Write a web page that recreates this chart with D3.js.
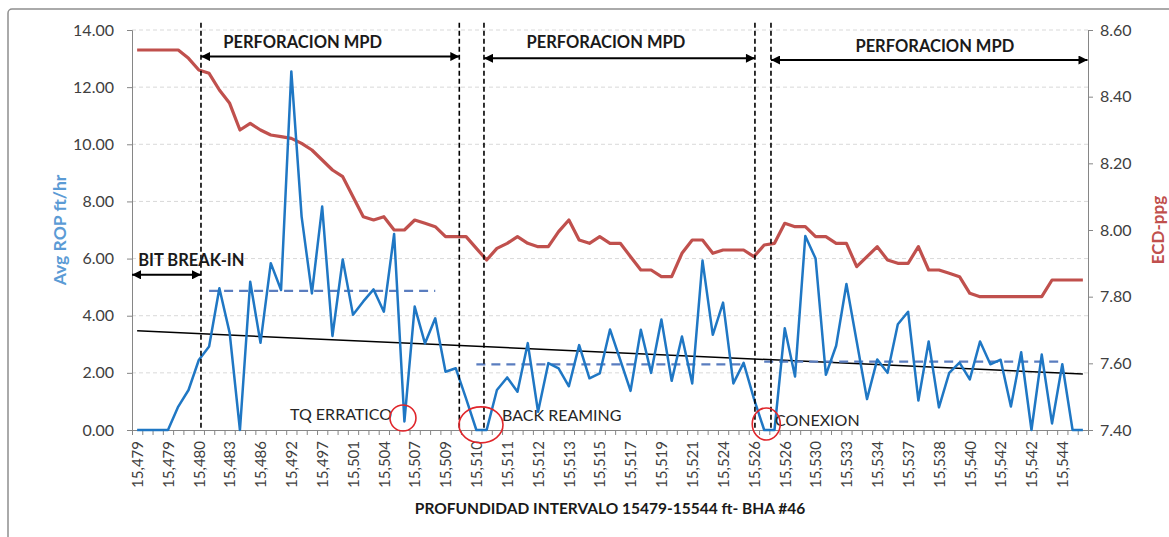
<!DOCTYPE html>
<html>
<head>
<meta charset="utf-8">
<script src="https://cdn.jsdelivr.net/npm/d3@7"></script>
<style>
	body { margin: 0; background: #fff; }
	svg text { font-family: Lato, "Open Sans", sans-serif; }
</style>
</head>
<body>
<div id="chart"></div>
<script>
// depth labels, shown on every third category
var tickLabels = ["15,479", "15,479", "15,480", "15,483", "15,486", "15,492", "15,497", "15,501",
	"15,504", "15,507", "15,509", "15,510", "15,511", "15,512", "15,513", "15,515", "15,517",
	"15,519", "15,521", "15,524", "15,526", "15,526", "15,530", "15,533", "15,534", "15,537",
	"15,538", "15,540", "15,542", "15,542", "15,544"];

// Avg ROP ft/hr
var rop = [0, 0, 0, 0, 0.82, 1.40, 2.45, 2.92, 4.96, 3.40,
	0, 5.19, 3.05, 5.84, 4.90, 12.55, 7.47, 4.78, 7.82, 3.29,
	5.97, 4.03, 4.50, 4.92, 4.14, 6.86, 0.30, 4.32, 3.03, 3.91,
	2.04, 2.16, 1.10, 0, 0, 1.40, 1.84, 1.34, 3.04, 0.64,
	2.34, 2.16, 1.53, 2.97, 1.81, 1.98, 3.52, 2.45, 1.37, 3.51,
	2.00, 3.87, 1.72, 3.27, 1.63, 5.93, 3.33, 4.46, 1.63, 2.35,
	1.10, 0, 0, 3.56, 1.87, 6.79, 6.00, 1.93, 2.95, 5.11,
	3.10, 1.08, 2.47, 2.00, 3.70, 4.14, 1.03, 3.10, 0.79, 2.00,
	2.36, 1.77, 3.10, 2.30, 2.46, 0.82, 2.72, 0, 2.64, 0.23,
	2.30, 0, 0];

// ECD-ppg
var ecd = [8.54, 8.54, 8.54, 8.54, 8.54, 8.515, 8.48, 8.47, 8.42, 8.38,
	8.30, 8.32, 8.30, 8.285, 8.28, 8.275, 8.26, 8.24, 8.21, 8.18,
	8.16, 8.10, 8.04, 8.03, 8.04, 8.00, 8.00, 8.03, 8.02, 8.01,
	7.98, 7.98, 7.98, 7.945, 7.91, 7.945, 7.96, 7.98, 7.96, 7.95,
	7.95, 7.995, 8.03, 7.97, 7.96, 7.98, 7.96, 7.96, 7.92, 7.88,
	7.88, 7.86, 7.86, 7.93, 7.97, 7.97, 7.93, 7.94, 7.94, 7.94,
	7.92, 7.955, 7.96, 8.02, 8.01, 8.01, 7.98, 7.98, 7.96, 7.96,
	7.89, 7.92, 7.95, 7.91, 7.90, 7.90, 7.95, 7.88, 7.88, 7.87,
	7.86, 7.81, 7.80, 7.80, 7.80, 7.80, 7.80, 7.80, 7.80, 7.85,
	7.85, 7.85, 7.85];

var ropTicks = [0, 2, 4, 6, 8, 10, 12, 14];
var ecdTicks = [7.4, 7.6, 7.8, 8.0, 8.2, 8.4, 8.6];

// linear trend of ROP (two ends)
var trend = [{i: 0, v: 3.47}, {i: 92, v: 1.96}];

// average ROP per drilling interval
var averages = [
	{from: 7, to: 29, v: 4.87},
	{from: 33, to: 59, v: 2.30},
	{from: 61, to: 90, v: 2.39}
];

// vertical event markers (category position)
var markers = [6.21, 31.34, 33.74, 60.1, 61.66];

// interval arrows
var spans = [
	{from: -0.5, to: 6.21, v: 5.43, label: "BIT BREAK-IN", lx: 0.1, lv: 5.74, anchor: "start"},
	{from: 6.21, to: 31.34, v: 13.07, label: "PERFORACION MPD", lx: 16.1, lv: 13.37, anchor: "middle"},
	{from: 33.74, to: 60.1, v: 13.01, label: "PERFORACION MPD", lx: 45.6, lv: 13.37, anchor: "middle"},
	{from: 61.66, to: 92.45, v: 12.95, label: "PERFORACION MPD", lx: 77.6, lv: 13.23, anchor: "middle"}
];

var notes = [
	{i: 24.8, v: 0.35, text: "TQ ERRATICO", anchor: "end"},
	{i: 35.5, v: 0.31, text: "BACK REAMING", anchor: "start"},
	{i: 62.05, v: 0.14, text: "CONEXION", anchor: "start"}
];

var circles = [
	{i: 25.86, v: 0.42, rx: 13, ry: 13},
	{i: 33.45, v: 0.18, rx: 22, ry: 18},
	{i: 61.2, v: 0.21, rx: 14, ry: 16}
];

var width = 1169, height = 537;
var margin = {top: 30, right: 81, bottom: 107, left: 132},
	w = width - margin.left - margin.right,
	h = height - margin.top - margin.bottom;

var x = d3.scaleLinear().domain([-0.5, rop.length - 0.5]).range([0, w]);
var y = d3.scaleLinear().domain([0, 14]).range([h, 0]);
var y2 = d3.scaleLinear().domain([7.4, 8.6]).range([h, 0]);

var svg = d3.select("#chart").append("svg")
	.attr("width", width)
	.attr("height", height);

// chart border
svg.append("rect")
	.attr("x", 8).attr("y", 9)
	.attr("width", 1300).attr("height", 700)
	.attr("rx", 4)
	.attr("fill", "none")
	.attr("stroke", "#8f8f8f")
	.attr("stroke-width", 1.5);

var defs = svg.append("defs");
defs.append("marker")
	.attr("id", "arrow")
	.attr("viewBox", "0 0 10 10")
	.attr("refX", 10).attr("refY", 5)
	.attr("markerWidth", 12).attr("markerHeight", 9)
	.attr("markerUnits", "userSpaceOnUse")
	.attr("orient", "auto-start-reverse")
	.append("path")
	.attr("d", "M0,0L10,5L0,10z")
	.attr("fill", "#000");

var g = svg.append("g").attr("transform", "translate(" + margin.left + "," + margin.top + ")");

// grid
g.append("g").selectAll("line")
	.data(ropTicks.slice(1))
	.enter().append("line")
	.attr("x1", 0).attr("x2", w)
	.attr("y1", y).attr("y2", y)
	.attr("stroke", "#d9d9d9")
	.attr("stroke-dasharray", "4,3");

// axes
var yAxis = d3.axisLeft(y).tickValues(ropTicks).tickFormat(d3.format(".2f")).tickSize(5).tickPadding(13);
var yAxis2 = d3.axisRight(y2).tickValues(ecdTicks).tickFormat(d3.format(".2f")).tickSize(5).tickPadding(7);
var xMinor = d3.axisBottom(x).tickValues(d3.range(-0.5, rop.length, 1)).tickFormat("").tickSize(5);
var xAxis = d3.axisBottom(x).tickValues(d3.range(0, rop.length, 3))
	.tickFormat(function(d, k) { return tickLabels[k]; }).tickSize(0);

function styleAxis(sel) {
	sel.select(".domain").attr("stroke", "#868686");
	sel.selectAll(".tick line").attr("stroke", "#868686");
	sel.selectAll("text").attr("fill", "#404040").style("font-size", "16px");
}

g.append("g").attr("class", "y axis").call(yAxis).call(styleAxis);
g.append("g").attr("class", "y2 axis").attr("transform", "translate(" + w + ",0)").call(yAxis2).call(styleAxis);
g.append("g").attr("class", "x minor").attr("transform", "translate(0," + h + ")").call(xMinor).call(styleAxis);
g.append("g").attr("class", "x axis").attr("transform", "translate(0," + h + ")").call(xAxis).call(styleAxis)
	.call(function(sel) {
		sel.select(".domain").remove();
		sel.selectAll("text")
			.attr("transform", "rotate(-90)")
			.attr("x", -11).attr("y", 0).attr("dy", "0.35em")
			.style("text-anchor", "end")
			.style("font-size", "15px");
	});

// trend
g.append("line")
	.attr("x1", x(trend[0].i)).attr("y1", y(trend[0].v))
	.attr("x2", x(trend[1].i)).attr("y2", y(trend[1].v))
	.attr("stroke", "#000").attr("stroke-width", 1.5);

// averages
g.append("g").selectAll("line")
	.data(averages)
	.enter().append("line")
	.attr("x1", function(d) { return x(d.from); })
	.attr("x2", function(d) { return x(d.to); })
	.attr("y1", function(d) { return y(d.v); })
	.attr("y2", function(d) { return y(d.v); })
	.attr("stroke", "#5a7dbf").attr("stroke-width", 2.2)
	.attr("stroke-dasharray", "9,6");

// ECD line
g.append("path")
	.datum(ecd)
	.attr("fill", "none")
	.attr("stroke", "#c0504d")
	.attr("stroke-width", 3.2)
	.attr("stroke-linejoin", "round")
	.attr("d", d3.line().x(function(d, i) { return x(i); }).y(function(d) { return y2(d); }));

// ROP line
g.append("path")
	.datum(rop)
	.attr("fill", "none")
	.attr("stroke", "#1f77c4")
	.attr("stroke-width", 2.5)
	.attr("stroke-linejoin", "round")
	.attr("d", d3.line().x(function(d, i) { return x(i); }).y(function(d) { return y(d); }));

// event markers
g.append("g").selectAll("line")
	.data(markers)
	.enter().append("line")
	.attr("x1", x).attr("x2", x)
	.attr("y1", y(14.25)).attr("y2", y(0))
	.attr("stroke", "#000").attr("stroke-width", 1.6)
	.attr("stroke-dasharray", "5,3");

// interval arrows
var span = g.append("g").selectAll("g")
	.data(spans)
	.enter().append("g");

span.append("line")
	.attr("x1", function(d) { return x(d.from); })
	.attr("x2", function(d) { return x(d.to); })
	.attr("y1", function(d) { return y(d.v); })
	.attr("y2", function(d) { return y(d.v); })
	.attr("stroke", "#000").attr("stroke-width", 2)
	.attr("marker-start", "url(#arrow)")
	.attr("marker-end", "url(#arrow)");

span.append("text")
	.attr("x", function(d) { return x(d.lx); })
	.attr("y", function(d) { return y(d.lv); })
	.attr("text-anchor", function(d) { return d.anchor; })
	.style("font-size", "16.5px")
	.style("font-weight", "bold")
	.attr("fill", "#1a1a1a")
	.text(function(d) { return d.label; });

// notes
g.append("g").selectAll("text")
	.data(notes)
	.enter().append("text")
	.attr("x", function(d) { return x(d.i); })
	.attr("y", function(d) { return y(d.v); })
	.attr("text-anchor", function(d) { return d.anchor; })
	.style("font-size", "16px")
	.attr("fill", "#262626")
	.text(function(d) { return d.text; });

g.append("g").selectAll("ellipse")
	.data(circles)
	.enter().append("ellipse")
	.attr("cx", function(d) { return x(d.i); })
	.attr("cy", function(d) { return y(d.v); })
	.attr("rx", function(d) { return d.rx; })
	.attr("ry", function(d) { return d.ry; })
	.attr("fill", "none")
	.attr("stroke", "#e0262b")
	.attr("stroke-width", 1.6);

// axis titles
svg.append("text")
	.attr("transform", "translate(66," + (margin.top + y(7)) + ") rotate(-90)")
	.attr("text-anchor", "middle")
	.style("font-size", "17.5px").style("font-weight", "bold")
	.attr("fill", "#5b9bd5")
	.text("Avg ROP ft/hr");

svg.append("text")
	.attr("transform", "translate(1164," + (margin.top + y(7)) + ") rotate(-90)")
	.attr("text-anchor", "middle")
	.style("font-size", "17px").style("font-weight", "bold")
	.attr("fill", "#c0504d")
	.text("ECD-ppg");

svg.append("text")
	.attr("x", 610).attr("y", 514)
	.attr("text-anchor", "middle")
	.style("font-size", "15.5px").style("font-weight", "bold")
	.attr("fill", "#1a1a1a")
	.text("PROFUNDIDAD INTERVALO 15479-15544 ft- BHA #46");
</script>
</body>
</html>
